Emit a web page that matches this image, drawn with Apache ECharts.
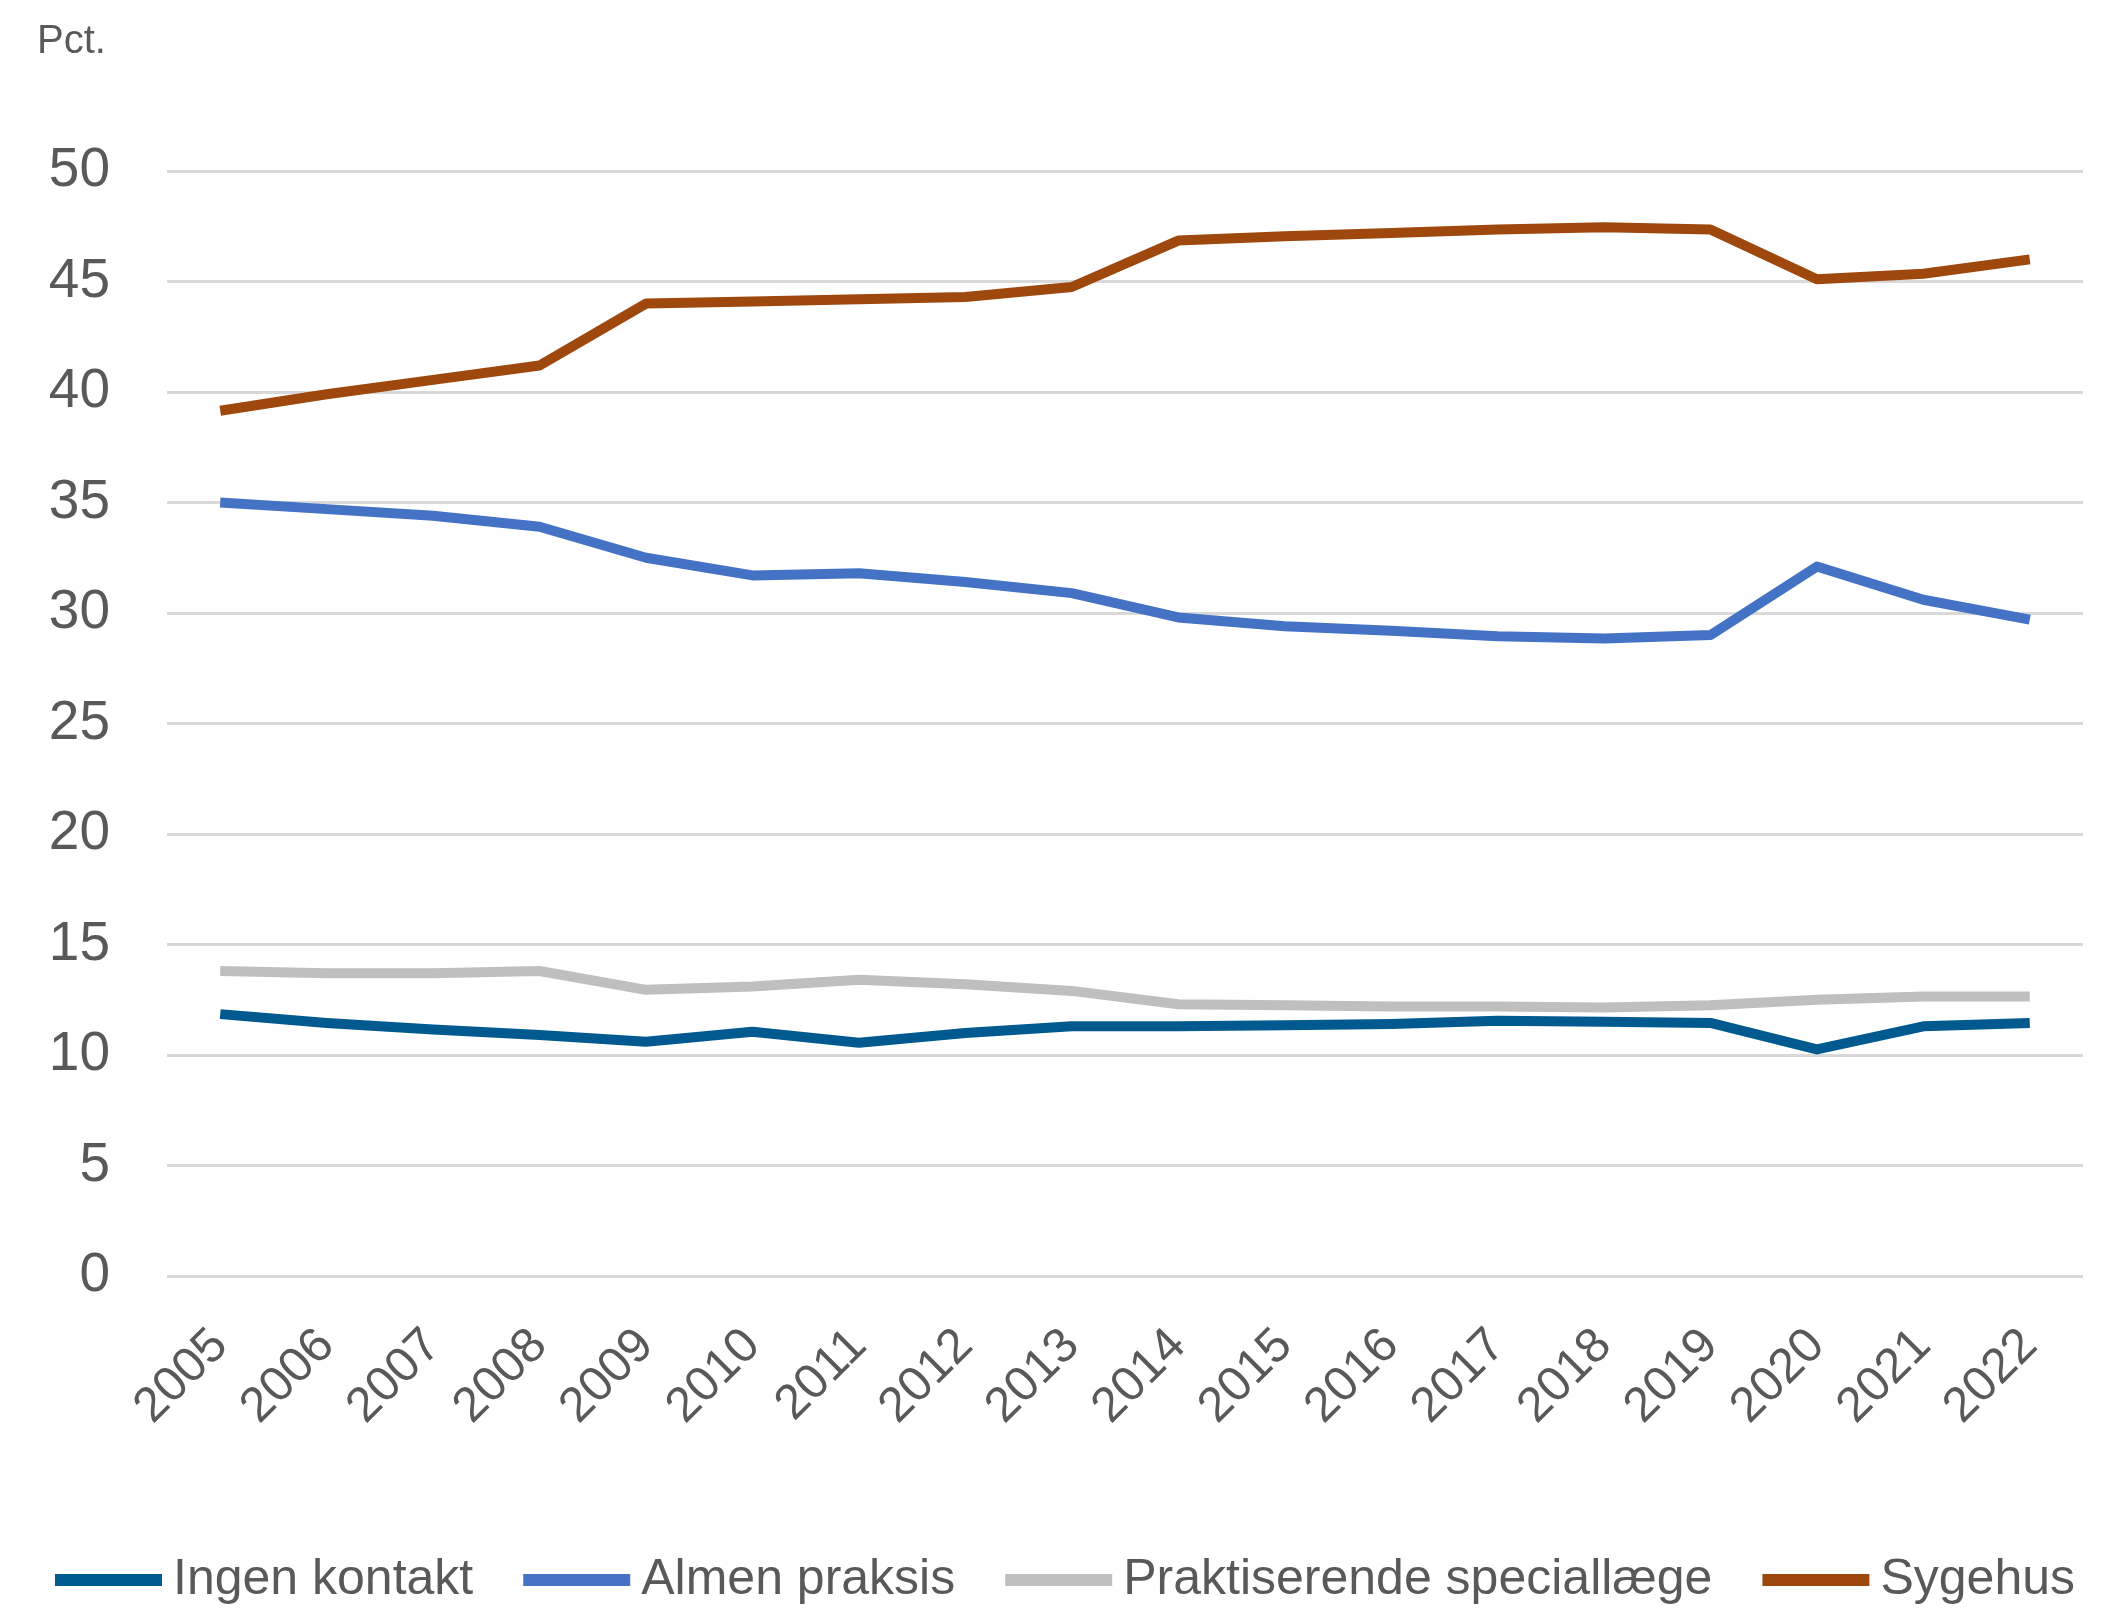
<!DOCTYPE html>
<html>
<head>
<meta charset="utf-8">
<script src="https://cdn.jsdelivr.net/npm/echarts@6/dist/echarts.min.js"></script>
<style>
html,body{margin:0;padding:0;background:#fff;}
#c{width:2111px;height:1616px;}
</style>
</head>
<body>
<div id="c"></div>
<script>
const years = ['2005','2006','2007','2008','2009','2010','2011','2012','2013','2014','2015','2016','2017','2018','2019','2020','2021','2022'];
const ingenKontakt = [11.85,11.45,11.15,10.9,10.6,11.05,10.55,11.0,11.3,11.3,11.35,11.4,11.55,11.5,11.45,10.25,11.3,11.45];
const almenPraksis = [35.0,34.7,34.4,33.9,32.5,31.7,31.8,31.4,30.9,29.8,29.4,29.2,28.95,28.85,29.0,32.1,30.6,29.7];
const praktiserende = [13.8,13.7,13.7,13.8,12.95,13.1,13.4,13.2,12.9,12.3,12.25,12.2,12.2,12.15,12.25,12.5,12.65,12.65];
const sygehus = [39.15,39.9,40.55,41.2,44.0,44.1,44.2,44.3,44.75,46.85,47.05,47.2,47.35,47.45,47.35,45.1,45.35,46.0];
const yTicks = {min:0, max:50, interval:5};
const seriesNames = ['Ingen kontakt','Almen praksis','Praktiserende speciallæge','Sygehus'];
const colors = ['#005A8F','#4472C4','#BFBFBF','#9E480E'];

const chart = echarts.init(document.getElementById('c'), null, {renderer:'canvas'});
const data = [ingenKontakt, almenPraksis, praktiserende, sygehus];
chart.setOption({
  animation:false,
  backgroundColor:'#ffffff',
  color: colors,
  grid:{left:167, right:28, top:171, bottom:340, containLabel:false},
  graphic:[{type:'text', left:37, top:22, style:{text:'Pct.', font:'40px "Liberation Sans", Arial', fill:'#595959'}}],
  legend:{
    left:55, top:1555, width:2056, padding:0, itemWidth:107, itemHeight:12, itemGap:50, icon:'rect',
    textStyle:{fontFamily:'"Liberation Sans", Arial', fontSize:50, color:'#595959', padding:[0,0,0,6]},
    data: seriesNames
  },
  xAxis:{
    type:'category', data:years, boundaryGap:true,
    axisLine:{show:false}, axisTick:{show:false},
    axisLabel:{rotate:45, margin:62, color:'#595959', fontFamily:'"Liberation Sans", Arial', fontSize:49}
  },
  yAxis:{
    type:'value', min:yTicks.min, max:yTicks.max, interval:yTicks.interval,
    axisLine:{show:false}, axisTick:{show:false},
    axisLabel:{margin:57, color:'#595959', fontFamily:'"Liberation Sans", Arial', fontSize:55},
    splitLine:{lineStyle:{color:'#D9D9D9', width:3}}
  },
  series: seriesNames.map((n,i)=>({
    name:n, type:'line', data:data[i], showSymbol:false, symbol:'none',
    lineStyle:{width:10, color:colors[i], join:'round'}, itemStyle:{color:colors[i]}, z: i===2?1:2
  }))
});
</script>
</body>
</html>
